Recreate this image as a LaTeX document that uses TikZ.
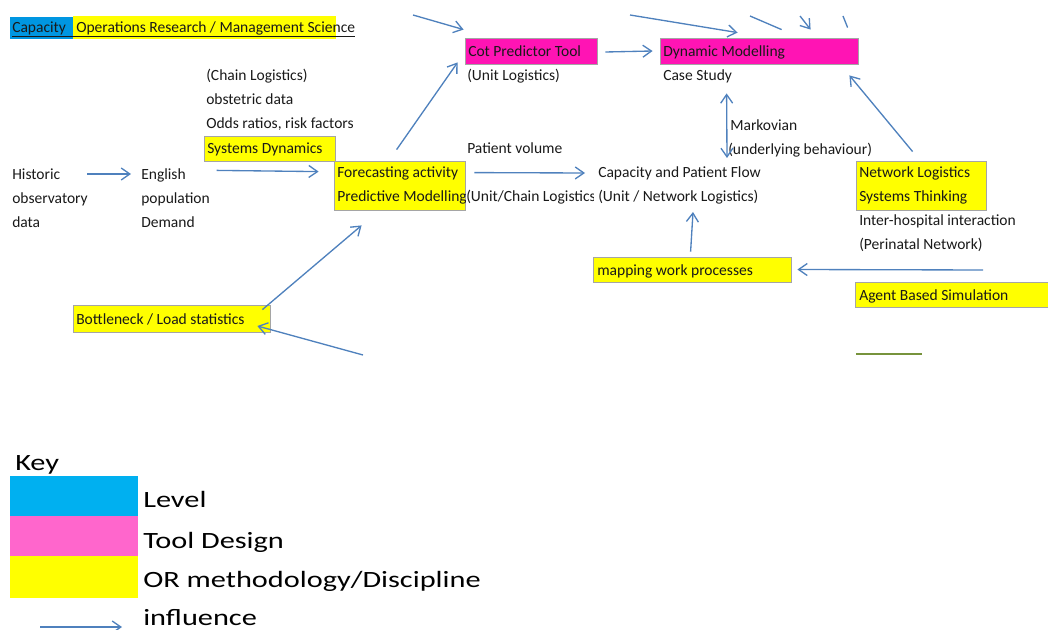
\documentclass[tikz,border=0pt]{standalone}
\usepackage{fontspec}
\setmainfont{Carlito}
\newfontfamily\keyfont[FakeStretch=1.3]{Carlito}
\usetikzlibrary{arrows.meta,calc,fit}
\definecolor{arrblue}{RGB}{79,129,189}
\definecolor{txtcol}{RGB}{25,25,25}
\definecolor{boxgray}{RGB}{165,165,165}
\definecolor{hlyellow}{RGB}{255,255,0}
\definecolor{hlmag}{RGB}{255,20,180}
\definecolor{hlblue}{RGB}{0,150,225}
\definecolor{keyblue}{RGB}{0,176,240}
\definecolor{keypink}{RGB}{255,102,204}
\definecolor{greenbar}{RGB}{119,147,60}
\tikzset{
  txt/.style={anchor=base west, inner sep=0pt, text=txtcol, font=\fontsize{11.65pt}{13pt}\selectfont},
  wtxt/.style={txt, fill=white, text height=10.5pt, text depth=3.5pt},
  keytxt/.style={anchor=base west, inner sep=0pt, text=black, font=\keyfont\fontsize{17.5pt}{20pt}\selectfont},
  box/.style={draw=boxgray, line width=0.6pt, inner sep=0pt},
  ybox/.style={box, fill=hlyellow},
  mbox/.style={box, fill=hlmag},
  keyrect/.style={inner sep=0pt, draw=none},
  arr/.style={draw=arrblue, line width=1pt, -{Straight Barb[length=6.5pt,width=9pt]}},
  darr/.style={draw=arrblue, line width=1pt, {Straight Barb[length=6.5pt,width=9pt]}-{Straight Barb[length=6.5pt,width=9pt]}},
  plainln/.style={draw=arrblue, line width=1pt}
}
\begin{document}
\begin{tikzpicture}[x=0.75pt,y=-0.75pt]
\useasboundingbox (0,0) rectangle (1048,630);

% title row
\node[box, draw=none, fill=hlblue, fit={(10,17) (73,39)}] (lvlbox) {};
\node[box, draw=none, fill=hlyellow, fit={(73,16) (336,39)}] (orbox) {};
\node[txt] (capT) at (12,33) {Capacity};
\node[txt] (orT) at (76,33) {Operations Research / Management Science};
\draw[txtcol, line width=0.6pt] ([yshift=-2.5pt]capT.base west) -- ([yshift=-2.5pt]orT.base east);

% chain logistics column
\node[txt] (chain1) at (206,81) {(Chain Logistics)};
\node[txt] (chain2) at (206,105) {obstetric data};
\node[txt] (chain3) at (206,129) {Odds ratios, risk factors};
\node[ybox, fit={(204,136) (335,161)}] (sysdyn) {};
\node[txt] (sysdynT) at (207,154) {Systems Dynamics};

% historic / english
\node[txt] (hist1) at (12,180) {Historic};
\node[txt] (hist2) at (12,204) {observatory};
\node[txt] (hist3) at (12,228) {data};
\node[txt] (eng1) at (141,180) {English};
\node[txt] (eng2) at (141,204) {population};
\node[txt] (eng3) at (141,228) {Demand};

% forecasting
\node[ybox, fit={(334,161) (465,210)}] (forecast) {};
\node[txt] (fc1) at (337,178) {Forecasting activity};
\node[txt] (fc2) at (337,202) {Predictive Modelling};

% tools
\node[mbox, fit={(465,38) (597,64)}] (cot) {};
\node[txt] (cotT) at (468,57) {Cot Predictor Tool};
\node[txt] (cotU) at (467,81) {(Unit Logistics)};
\node[mbox, fit={(660,38) (858,64)}] (dyn) {};
\node[txt] (dynT) at (663,57) {Dynamic Modelling};
\node[txt] (dynC) at (663,81) {Case Study};

% middle
\node[txt] (pvol) at (467,154) {Patient volume};
\node[wtxt] (unitchain) at (466,202) {(Unit/Chain Logistics)};
\node[txt] (capflow1) at (598,178) {Capacity and Patient Flow};
\node[wtxt] (capflow2) at (594,202) {\hspace{3pt}(Unit / Network Logistics)};
\node[txt] (markov1) at (730,131) {Markovian};
\node[txt] (markov2) at (728,155) {(underlying behaviour)};

% network
\node[ybox, fit={(856,161) (986,210)}] (network) {};
\node[txt] (net1) at (859,178) {Network Logistics};
\node[txt] (net2) at (859,202) {Systems Thinking};
\node[txt] (net3) at (859,226) {Inter-hospital interaction};
\node[txt] (net4) at (859,250) {(Perinatal Network)};

% mapping, agent, bottleneck
\node[ybox, fit={(593,257) (791,282)}] (mapping) {};
\node[txt] (mapT) at (597,276) {mapping work processes};
\node[ybox, fit={(855,282) (1050,307)}] (agent) {};
\node[txt] (agentT) at (859,301) {Agent Based Simulation};
\node[ybox, fit={(73,305) (270,332)}] (bottle) {};
\node[txt] (bottleT) at (76,325) {Bottleneck / Load statistics};
\draw[greenbar, line width=1.5pt] (856,354) -- (922,354);

% free ends
\coordinate (in1) at (413,15);
\coordinate (in2) at (630,15);
\coordinate (in3) at (750,16);
\coordinate (in4) at (800,16);
\coordinate (in5) at (843,16);
\coordinate (in6) at (983,270);
\coordinate (in7) at (363,355);

% connectors
\draw[arr] ($(hist1.base west)+(75,-6)$) -- ($(eng1.base west)+(-10,-6)$);
\draw[arr] ($(sysdyn.south west)+(13,9)$) -- ($(forecast.north west)+(-15,11)$);
\draw[arr] ($(forecast.north west)+(63,-11)$) -- ($(cot.south west)+(-7,-2)$);
\draw[arr] (in1) -- ($(cot.north west)+(-1,-8)$);
\draw[arr] ($(cot.east)+(8,1)$) -- ($(dyn.west)+(-7,0)$);
\draw[arr] (in2) -- ($(dyn.north west)+(78,-5)$);
\draw[plainln] (in3) -- ($(dyn.north west)+(122,-8)$);
\draw[arr] (in4) -- ($(dyn.north west)+(151,-8)$);
\draw[plainln] (in5) -- ($(dyn.north west)+(188,-10)$);
\draw[darr] ($(dyn.south west)+(67,29)$) -- ($(capflow1.base west)+(129,-20)$);
\draw[arr] ($(network.north west)+(57,-9)$) -- ($(dyn.south east)+(-9,11)$);
\draw[arr] ($(forecast.north east)+(9,12)$) -- ($(capflow1.base west)+(-13,-5)$);
\draw[arr] ($(mapping.north west)+(98,-5)$) -- ($(capflow2.base west)+(99,10)$);
\draw[arr] (in6) -- ($(mapping.east)+(6,0)$);
\draw[arr] ($(bottle.north east)+(-8,5)$) -- ($(forecast.south west)+(28,15)$);
\draw[arr] (in7) -- ($(bottle.east)+(-13,7.5)$);

% key
\node[keytxt] (keyT) at (15,470) {Key};
\node[keyrect, fill=keyblue, fit={(10,476) (138,516)}] (klevel) {};
\node[keyrect, fill=keypink, fit={(10,516) (138,556)}] (ktool) {};
\node[keyrect, fill=hlyellow, fit={(10,556) (138,598)}] (kor) {};
\node[keytxt] (klevelT) at (143,507) {Level};
\node[keytxt] (ktoolT) at (143,548) {Tool Design};
\node[keytxt] (korT) at (143,587) {OR methodology/Discipline};
\node[keytxt] (kinflT) at (143,625) {influence};
\draw[arr] ($(kinflT.base west)+(-103,2)$) -- ($(kinflT.base west)+(-21,2)$);
\end{tikzpicture}
\end{document}
